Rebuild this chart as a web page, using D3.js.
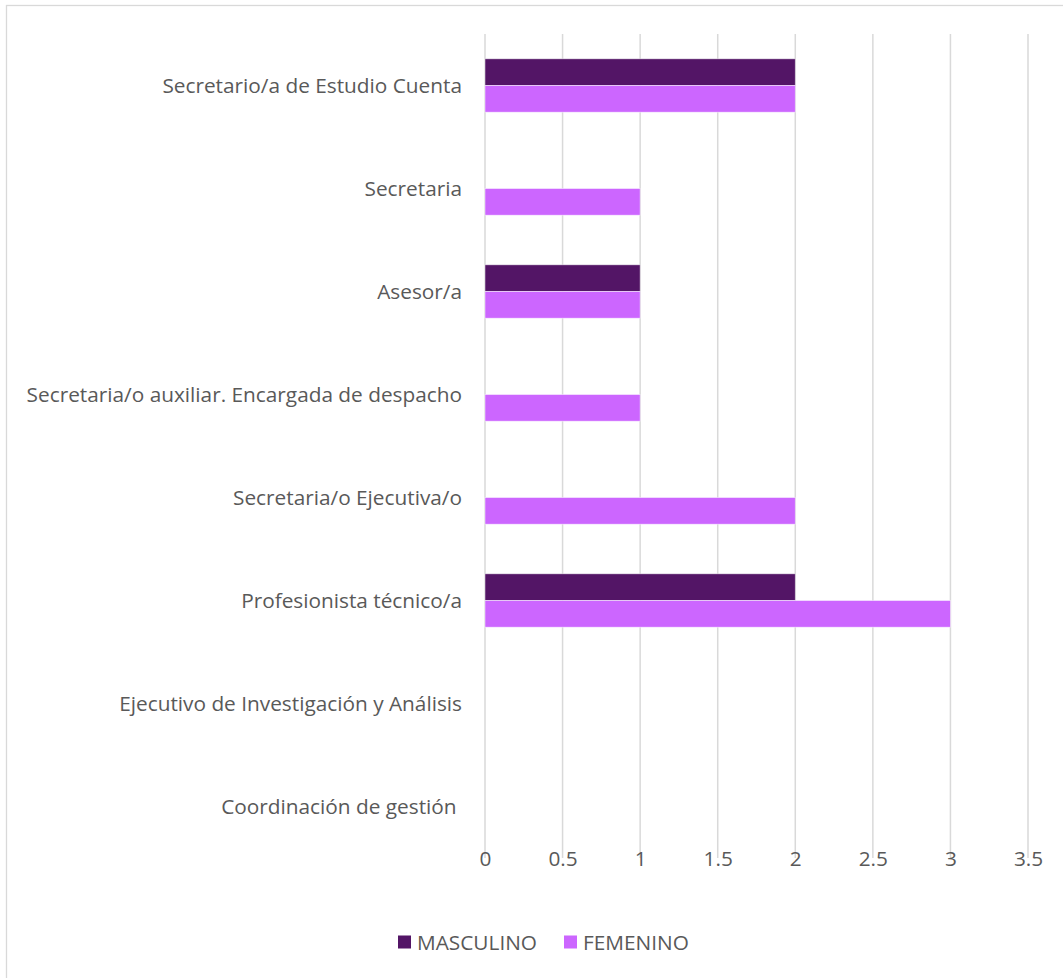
<!DOCTYPE html>
<html><head><meta charset="utf-8">
<script src="https://cdn.jsdelivr.net/npm/d3@7"></script>
<style>
body{margin:0;background:#fff;}
svg{display:block;font-family:"Open Sans","Noto Sans",sans-serif;}
</style></head>
<body><svg id="c" width="1063" height="978"></svg>
<script>
const categories = ["Secretario/a de Estudio Cuenta","Secretaria","Asesor/a","Secretaria/o auxiliar. Encargada de despacho","Secretaria/o Ejecutiva/o","Profesionista técnico/a","Ejecutivo de Investigación y Análisis","Coordinación de gestión "];
const masculino = [2,0,1,0,0,2,0,0];
const femenino  = [2,1,1,1,2,3,0,0];
const seriesNames = ["MASCULINO","FEMENINO"];
const seriesColors = ["#531566","#CC66FF"];
const ticks = [0,0.5,1,1.5,2,2.5,3,3.5];

const FS = 20.8;
const svg = d3.select("#c");
// chart border
svg.append("rect").attr("x",6.5).attr("y",5.5).attr("width",1100).attr("height",1100)
  .attr("fill","none").attr("stroke","#d9d9d9").attr("stroke-width",1.3);

const x = d3.scaleLinear().domain([0,3.5]).range([485,1028]);
const y = d3.scaleBand().domain(categories).range([34,858]).paddingInner(0).paddingOuter(0);
const bandInner = 53.4;

// gridlines
svg.append("g").selectAll("line").data(ticks).join("line")
  .attr("x1",d=>x(d)).attr("x2",d=>x(d)).attr("y1",34).attr("y2",858)
  .attr("stroke","#d9d9d9").attr("stroke-width",1.5);

// x axis tick labels
const xAxis = d3.axisBottom(x).tickValues(ticks).tickSize(0).tickPadding(0).tickFormat(d3.format("~g"));
const gx = svg.append("g").attr("transform","translate(0,851)").call(xAxis);
gx.select(".domain").remove();
gx.selectAll("text").attr("font-size",FS).attr("fill","#595959").attr("font-family","Open Sans");

// category labels
const yAxis = d3.axisLeft(y).tickSize(0).tickPadding(0);
const gy = svg.append("g").attr("transform","translate(462,0.5)").call(yAxis);
gy.select(".domain").remove();
gy.selectAll("text").attr("font-size",FS).attr("fill","#595959").attr("font-family","Open Sans")
  .style("white-space","pre");

const sub = d3.scaleBand().domain([0,1]).range([0,bandInner]);
const data = categories.flatMap((c,i)=>[
  {c, s:0, v:masculino[i]},
  {c, s:1, v:femenino[i]}
]);
svg.append("g").selectAll("rect").data(data.filter(d=>d.v>0)).join("rect")
  .attr("x",x(0)).attr("width",d=>x(d.v)-x(0))
  .attr("y",d=>y(d.c)+(y.bandwidth()-bandInner)/2+sub(d.s))
  .attr("height",sub.bandwidth())
  .attr("fill",d=>seriesColors[d.s])
  .attr("stroke","#ffffff").attr("stroke-opacity",0.6).attr("stroke-width",0.8);

// legend
const leg = svg.append("g");
const legX = [398,564];
seriesNames.forEach((n,i)=>{
  leg.append("rect").attr("x",legX[i]).attr("y",935.5).attr("width",13).attr("height",13).attr("fill",seriesColors[i]);
  leg.append("text").attr("x",legX[i]+19).attr("y",949.5).text(n)
    .attr("font-size",FS).attr("fill","#595959");
});
</script></body></html>
